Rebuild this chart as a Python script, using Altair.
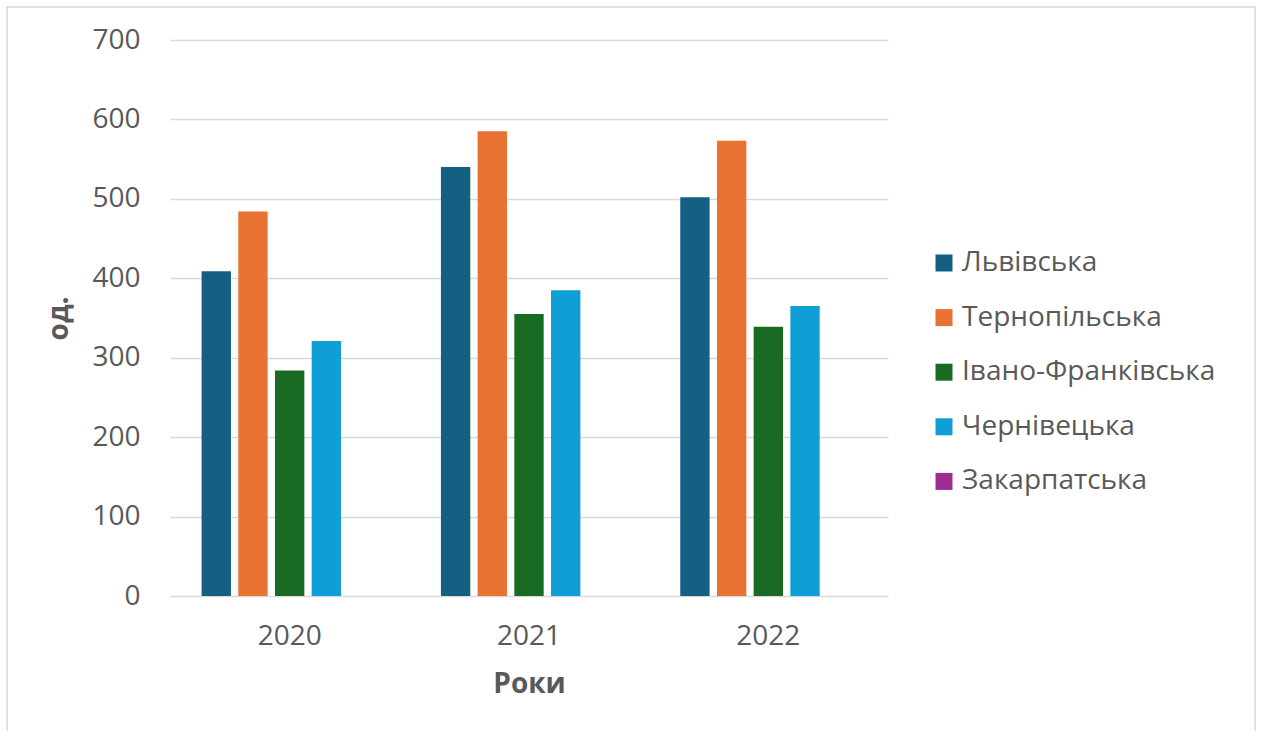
import altair as alt
import pandas as pd

years = ["2020", "2021", "2022"]
regions = ["Львівська", "Тернопільська", "Івано-Франківська", "Чернівецька", "Закарпатська"]
colors = ["#156082", "#E97132", "#196B24", "#0F9ED5", "#A02B93"]

lviv = [409, 540, 502]
ternopil = [484, 585, 573]
ivano = [284, 355, 339]
cherniv = [321, 385, 365]
zakarp = [0, 0, 0]

series = [lviv, ternopil, ivano, cherniv, zakarp]
rows = []
for r, vals in zip(regions, series):
    for y, v in zip(years, vals):
        rows.append({"Рік": y, "Область": r, "Значення": v})
df = pd.DataFrame(rows)

FONT = "Open Sans"
TXT = "#595959"
FS = 28

bars = alt.Chart(df).mark_bar().encode(
    x=alt.X("Рік:N", sort=years,
            scale=alt.Scale(paddingInner=0.264, paddingOuter=0.132),
            axis=alt.Axis(title="Роки", labelAngle=0, labelFontSize=FS, labelColor=TXT,
                          labelFont=FONT, labelPadding=26, ticks=False, domain=False,
                          titleFont=FONT, titleFontSize=FS, titleFontWeight="bold",
                          titleColor=TXT, titlePadding=20)),
    xOffset=alt.XOffset("Область:N", sort=regions,
                        scale=alt.Scale(paddingInner=0.2, paddingOuter=0)),
    y=alt.Y("Значення:Q", scale=alt.Scale(domain=[0, 700]),
            axis=alt.Axis(title="од.", values=list(range(0, 701, 100)), labelFontSize=FS,
                          labelColor=TXT, labelFont=FONT, labelPadding=30, ticks=False,
                          domain=False, gridColor="#d9d9d9", gridWidth=1.5,
                          titleFont=FONT, titleFontSize=FS, titleFontWeight="bold",
                          titleColor=TXT, titlePadding=18)),
    color=alt.Color("Область:N", sort=regions,
                    scale=alt.Scale(domain=regions, range=colors),
                    legend=alt.Legend(title=None, orient="none", legendX=760, legendY=209,
                                      symbolType="square", symbolSize=289,
                                      symbolStrokeWidth=0, labelFontSize=FS,
                                      labelFont=FONT, labelColor=TXT, labelOffset=4,
                                      rowPadding=26.6, labelLimit=400)),
)

frame_df = pd.DataFrame({"a": [0]})
frame = alt.Chart(frame_df).mark_rect(fill=None, stroke="#d9d9d9", strokeWidth=1.5).encode(
    x=alt.value(-163), x2=alt.value(1085), y=alt.value(-33), y2=alt.value(720)
)

chart = alt.layer(frame, bars).properties(
    width=718, height=556,
    autosize=alt.AutoSizeParams(type="none"),
    padding={"left": 170, "top": 40, "right": 374, "bottom": 135},
    background="white",
).configure_view(stroke=None)

chart.save("out.html", embed_options={"renderer": "svg", "actions": False})
